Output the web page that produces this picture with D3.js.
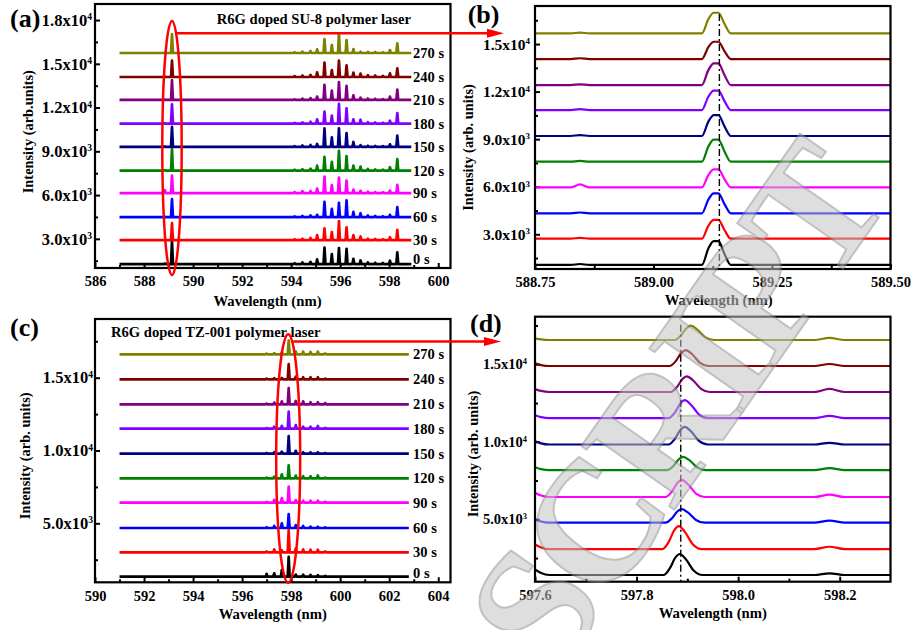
<!DOCTYPE html>
<html>
<head>
<meta charset="utf-8">
<script src="https://cdn.jsdelivr.net/npm/d3@7"></script>
<style>
body{margin:0;background:#fff}
text{font-family:"Liberation Serif","Times New Roman",serif;font-weight:bold}
</style>
</head>
<body>
<script>
var W = 912, H = 630;
var serif = '"Liberation Serif","Times New Roman",serif';

// series (exposure time) and colours
var times = ["0 s","30 s","60 s","90 s","120 s","150 s","180 s","210 s","240 s","270 s"];
var colors = ["#000000","#ff0000","#0000ff","#ff00ff","#008000","#000080","#8000ff","#800080","#800000","#808000"];

// (a) SU-8 : lasing modes (nm) and heights above each baseline
var modesA = [588.85,589.14,594.14,594.46,594.79,595.06,595.36,595.66,595.95,596.26,596.54,596.83,597.13,597.43,597.74,598.03,598.33];
var heightsA = [
  [40,1550,60,120,150,320,1140,685,1100,1050,360,250,120,90,80,230,800],
  [30,1160,60,100,150,340,800,550,1300,870,340,250,100,80,70,200,710],
  [30,1230,50,80,120,160,1050,570,980,1160,360,270,120,80,60,160,685],
  [200,1210,80,140,150,320,1140,550,1070,870,250,160,100,80,70,180,570],
  [30,1460,60,100,130,340,940,600,1350,1000,340,270,120,80,70,230,780],
  [40,1370,60,100,130,200,1280,660,1280,940,340,120,80,70,60,180,780],
  [40,1320,50,90,130,300,820,550,1350,1050,300,270,100,80,60,200,730],
  [30,1370,50,90,130,230,1030,640,1230,960,320,160,100,80,60,230,710],
  [30,1120,60,100,140,320,980,480,1120,800,300,230,120,100,80,250,600],
  [30,1300,60,100,140,250,960,550,1350,890,270,90,80,70,60,205,660]
];
var baseA = [1267,2911,4486,6130,7678,9301,10897,12521,14096,15740];
var rangeA = [587.0,598.9];

// (b) SU-8 zoom on 589.14 nm
var baseB = [1064,2723,4324,5957,7577,9200,10838,12415,14054,15675];
var peakB = [1510,1180,1260,1135,1400,1320,1220,1365,1090,1300];
var bumpB = [60,50,50,190,50,60,60,40,50,40];
var profDxB = [-0.031,-0.017,-0.006,0.004,0.017,0.030];
var profFrB = [0,0.7,1,1,0.45,0];

// (c) TZ-001 : lasing modes and heights
var modesC = [597.0,597.31,597.62,597.9,598.19,598.49,598.79,599.09,599.39];
var heightsC = [
  [200,230,460,1370,150,140,120,110,60],
  [60,200,140,1530,270,200,180,180,60],
  [60,140,320,960,200,140,100,90,50],
  [60,200,320,1100,185,140,140,140,70],
  [50,120,275,890,185,140,140,200,50],
  [50,100,140,1215,200,100,100,100,50],
  [50,140,200,1170,250,140,140,185,60],
  [50,120,200,1120,230,200,140,140,90],
  [50,80,100,1050,185,140,140,140,50],
  [50,80,140,940,185,185,160,185,60]
];
var baseC = [1333,3008,4677,6415,8090,9780,11497,13173,14890,16607];
var rangeC = [591.0,602.8];

// (d) TZ-001 zoom on 597.89 nm
var baseD = [1406,3081,4781,6439,8168,9826,11523,13213,14890,16568];
var peakD = [1355,1480,880,1100,860,1140,1160,1010,1030,920];
var posD = [597.885,597.883,597.889,597.889,597.892,597.895,597.895,597.899,597.897,597.907];
var edgeD = [365,300,215,280,195,215,195,195,170,110];
var bumpD = [110,150,130,150,130,110,150,195,130,130];
var profDxD = [-0.032,-0.02,-0.008,0,0.012,0.028,0.045];
var profFrD = [0,0.3,0.85,1,0.75,0.2,0];

var svg = d3.select("body").append("svg").attr("width", W).attr("height", H);

function supLabel(sel) {
  sel.each(function(d) {
    var e = Math.floor(Math.log10(d) + 1e-9);
    var m = (d / Math.pow(10, e)).toFixed(1);
    var t = d3.select(this).text(null);
    t.append("tspan").text(m + "x10");
    t.append("tspan").attr("dy", "-0.6em").attr("font-size", "0.58em").text(e);
  });
}

function panel(p) {
  var x = d3.scaleLinear().domain(p.xd).range([p.x0, p.x1]);
  var y = d3.scaleLinear().domain(p.yd).range([p.y1, p.y0]);

  var gx = svg.append("g").attr("transform", "translate(0," + p.y1 + ")")
    .call(d3.axisBottom(x).tickValues(p.xMajor).tickSize(-5).tickPadding(8).tickFormat(p.xfmt));
  svg.append("g").attr("transform", "translate(0," + p.y1 + ")")
    .call(d3.axisBottom(x).tickValues(p.xMinor).tickSize(-3).tickFormat(""))
    .select(".domain").remove();
  var gy = svg.append("g").attr("transform", "translate(" + p.x0 + ",0)")
    .call(d3.axisLeft(y).tickValues(p.yMajor).tickSize(-5).tickPadding(p.yPad));
  svg.append("g").attr("transform", "translate(" + p.x0 + ",0)")
    .call(d3.axisLeft(y).tickValues(p.yMinor).tickSize(-3).tickFormat(""))
    .select(".domain").remove();
  gx.select(".domain").remove();
  gy.select(".domain").remove();
  svg.selectAll(".tick line").attr("stroke-width", 2);
  gx.attr("font-family", serif).attr("font-size", 14.5).attr("font-weight", "bold");
  gy.attr("font-family", serif).attr("font-size", p.yFont).attr("font-weight", "bold");
  gy.selectAll(".tick text").call(supLabel);

  var clipId = "clip" + p.id;
  svg.append("clipPath").attr("id", clipId).append("rect")
    .attr("x", p.x0).attr("y", p.y0).attr("width", p.x1 - p.x0).attr("height", p.y1 - p.y0);

  var line = d3.line().x(function(d) { return x(d[0]); }).y(function(d) { return y(d[1]); })
    .curve(p.curve || d3.curveLinear);
  var g = svg.append("g").attr("clip-path", "url(#" + clipId + ")");
  p.series.forEach(function(pts, i) {
    g.append("path").attr("d", line(pts)).attr("fill", "none")
      .attr("stroke", colors[i]).attr("stroke-width", p.lw).attr("stroke-linejoin", "round");
  });

  if (p.dash != null) {
    svg.append("line").attr("x1", x(p.dash)).attr("x2", x(p.dash))
      .attr("y1", p.y0 + 8).attr("y2", p.y1)
      .attr("stroke", "#000").attr("stroke-width", 1.4).attr("stroke-dasharray", "7,3,2,3");
  }

  svg.append("rect").attr("x", p.x0).attr("y", p.y0)
    .attr("width", p.x1 - p.x0).attr("height", p.y1 - p.y0)
    .attr("fill", "none").attr("stroke", "#000").attr("stroke-width", 2.2);

  svg.append("text").attr("x", p.xt[0]).attr("y", p.xt[1]).attr("text-anchor", "middle")
    .attr("font-size", 14.7).text("Wavelength (nm)");
  svg.append("text").attr("transform", "translate(" + p.yt[0] + "," + p.yt[1] + ") rotate(-90)")
    .attr("text-anchor", "middle").attr("font-size", 14.4).text(p.ytitle);
  svg.append("text").attr("x", p.lab[0]).attr("y", p.lab[1]).attr("font-size", 26).text(p.label);

  if (p.tags) {
    p.base.forEach(function(b, i) {
      var yy = Math.min(y(b), p.y1 - 9);
      svg.append("text").attr("x", 413).attr("y", yy).attr("dy", "0.35em")
        .attr("font-size", 14.5).text(times[i]);
    });
  }
  return {x: x, y: y};
}

function spectrum(modes, hs, base, range, hw) {
  var pts = [[range[0], base]];
  modes.forEach(function(m, k) {
    pts.push([m - hw, base], [m, base + hs[k]], [m + hw, base]);
  });
  pts.push([range[1], base]);
  return pts;
}

var seriesA = baseA.map(function(b, i) { return spectrum(modesA, heightsA[i], b, rangeA, 0.04); });
var seriesC = baseC.map(function(b, i) { return spectrum(modesC, heightsC[i], b, rangeC, 0.04); });
var seriesB = baseB.map(function(b, i) {
  var pts = [[588.75, b], [588.825, b], [588.845, b + bumpB[i]], [588.865, b]];
  profDxB.forEach(function(dx, k) { pts.push([589.133 + dx, b + profFrB[k] * peakB[i]]); });
  pts.push([589.5, b]);
  return pts;
});
var seriesD = baseD.map(function(b, i) {
  var pts = [[597.6, b + edgeD[i]], [597.612, b + edgeD[i] * 0.35], [597.628, b]];
  profDxD.forEach(function(dx, k) { pts.push([posD[i] + dx, b + profFrD[k] * peakD[i]]); });
  pts.push([598.15, b], [598.18, b + bumpD[i]], [598.21, b], [598.3, b]);
  return pts;
});

var even = function(a, b) { return d3.range(a, b + 0.1, 2); };

var pa = panel({id: "a", x0: 95, x1: 450.5, y0: 4, y1: 268, xd: [586, 600.5], yd: [1000, 19100],
  xMajor: even(586, 600), xMinor: even(587, 599), xfmt: d3.format("d"),
  yMajor: [3000, 6000, 9000, 12000, 15000, 18000], yMinor: [1500, 4500, 7500, 10500, 13500, 16500],
  yFont: 16.5, yPad: 3, series: seriesA, lw: 2.7, base: baseA, tags: true,
  xt: [267.5, 306], yt: [33, 131.7], ytitle: "Intensity (arb.units)", lab: [10, 26.5], label: "(a)"});

panel({id: "b", x0: 535, x1: 890.5, y0: 6, y1: 269, xd: [588.75, 589.5], yd: [810, 17400],
  xMajor: [588.75, 589, 589.25, 589.5], xMinor: [588.875, 589.125, 589.375], xfmt: d3.format(".2f"),
  yMajor: [3000, 6000, 9000, 12000, 15000], yMinor: [1500, 4500, 7500, 10500, 13500, 16500],
  yFont: 15.5, yPad: 5, series: seriesB, lw: 2.2, curve: d3.curveMonotoneX, dash: 589.139,
  xt: [718.7, 305], yt: [472.5, 147.5], ytitle: "Intensity (arb. units)", lab: [467.7, 23], label: "(b)"});

var pc = panel({id: "c", x0: 95, x1: 450.5, y0: 319, y1: 582.3, xd: [590, 604.5], yd: [950, 19030],
  xMajor: even(590, 604), xMinor: even(591, 603), xfmt: d3.format("d"),
  yMajor: [5000, 10000, 15000], yMinor: [2500, 7500, 12500, 17500],
  yFont: 16.5, yPad: 2, series: seriesC, lw: 2.7, base: baseC, tags: true,
  xt: [272.8, 619], yt: [30, 455.8], ytitle: "Intensity (arb. units)", lab: [10, 335.5], label: "(c)"});

panel({id: "d", x0: 535, x1: 890.5, y0: 316.7, y1: 581.7, xd: [597.6, 598.3], yd: [975, 18070],
  xMajor: [597.6, 597.8, 598.0, 598.2], xMinor: [597.7, 597.9, 598.1], xfmt: d3.format(".1f"),
  yMajor: [5000, 10000, 15000], yMinor: [2500, 7500, 12500, 17500],
  yFont: 14.5, yPad: 8, series: seriesD, lw: 2.2, curve: d3.curveMonotoneX, dash: 597.887,
  xt: [712.8, 618], yt: [477.5, 454], ytitle: "Intensity (arb. units)", lab: [470, 331.5], label: "(d)"});

svg.append("text").attr("x", 216.7).attr("y", 24).attr("font-size", 14.6).text("R6G doped SU-8 polymer laser");
svg.append("text").attr("x", 111).attr("y", 336.5).attr("font-size", 14.6).text("R6G doped TZ-001 polymer laser");

// red annotations
var red = "#ff0000";
svg.append("ellipse").attr("cx", pa.x(589.14)).attr("cy", 148).attr("rx", 9.7).attr("ry", 127)
  .attr("fill", "none").attr("stroke", red).attr("stroke-width", 2.5);
svg.append("line").attr("x1", pa.x(589.14) + 4).attr("x2", 490).attr("y1", 33.3).attr("y2", 33.3)
  .attr("stroke", red).attr("stroke-width", 2.5);
svg.append("polygon").attr("points", "487,28.8 504,33.3 487,37.8").attr("fill", red);

svg.append("ellipse").attr("cx", pc.x(597.88)).attr("cy", 458.5).attr("rx", 12).attr("ry", 124.2)
  .attr("fill", "none").attr("stroke", red).attr("stroke-width", 2.5);
svg.append("line").attr("x1", pc.x(597.88) + 5).attr("x2", 487).attr("y1", 341.5).attr("y2", 341.5)
  .attr("stroke", red).attr("stroke-width", 2.5);
svg.append("polygon").attr("points", "484,337 501,341.5 484,346").attr("fill", red);

// watermark
svg.append("text").attr("transform", "translate(555,680) rotate(-55)")
  .attr("font-family", '"Liberation Sans",Arial,sans-serif').attr("font-weight", "bold")
  .attr("font-size", 172).attr("letter-spacing", -8)
  .attr("fill", "#c4c4c4").attr("stroke", "#8f8f8f").attr("stroke-width", 2)
  .attr("opacity", 0.55).text("SCRIPT");
</script>
</body>
</html>
